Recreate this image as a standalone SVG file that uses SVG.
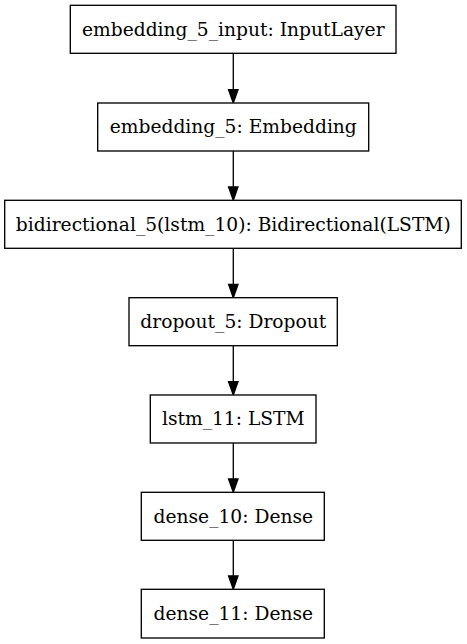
<svg xmlns="http://www.w3.org/2000/svg" width="467" height="644" viewBox="0 0 467 644">
<style>
.box{fill:#fff;stroke:#000;stroke-width:1.33}
.lbl{font-family:"DejaVu Serif",serif;font-size:18.67px;fill:#000;text-anchor:middle}
.edge{stroke:#000;stroke-width:1.33;fill:none}
.head{fill:#000;stroke:#000;stroke-width:1.33}
</style>
<rect width="467" height="644" fill="#fff"/>
<g id="edges">
<path class="edge" d="M233.3 53.7V89.7"/><path class="head" d="M228.6 89.7L233.3 103L238 89.7Z"/>
<path class="edge" d="M233.3 151V187"/><path class="head" d="M228.6 187L233.3 200.3L238 187Z"/>
<path class="edge" d="M233.3 248.3V284.3"/><path class="head" d="M228.6 284.3L233.3 297.7L238 284.3Z"/>
<path class="edge" d="M233.3 345.7V381.7"/><path class="head" d="M228.6 381.7L233.3 395L238 381.7Z"/>
<path class="edge" d="M233.3 443V479"/><path class="head" d="M228.6 479L233.3 492.3L238 479Z"/>
<path class="edge" d="M233.3 540.3V576"/><path class="head" d="M228.6 576L233.3 589.3L238 576Z"/>
</g>
<g id="n1"><rect class="box" x="70.3" y="5.3" width="325.7" height="48"/><text class="lbl" x="233.3" y="35.5">embedding_5_input: InputLayer</text></g>
<g id="n2"><rect class="box" x="97.7" y="103" width="271" height="48"/><text class="lbl" x="233.3" y="133.2">embedding_5: Embedding</text></g>
<g id="n3"><rect class="box" x="4.7" y="200.3" width="456.6" height="48"/><text class="lbl" x="233.3" y="230.5">bidirectional_5(lstm_10): Bidirectional(LSTM)</text></g>
<g id="n4"><rect class="box" x="129" y="297.7" width="208.3" height="48"/><text class="lbl" x="233.3" y="327.9">dropout_5: Dropout</text></g>
<g id="n5"><rect class="box" x="150.3" y="395" width="165.7" height="48"/><text class="lbl" x="233.3" y="425.2">lstm_11: LSTM</text></g>
<g id="n6"><rect class="box" x="141.3" y="492.3" width="183" height="48"/><text class="lbl" x="233.3" y="522.5">dense_10: Dense</text></g>
<g id="n7"><rect class="box" x="141.3" y="589.3" width="183" height="48.7"/><text class="lbl" x="233.3" y="619.5">dense_11: Dense</text></g>
</svg>
